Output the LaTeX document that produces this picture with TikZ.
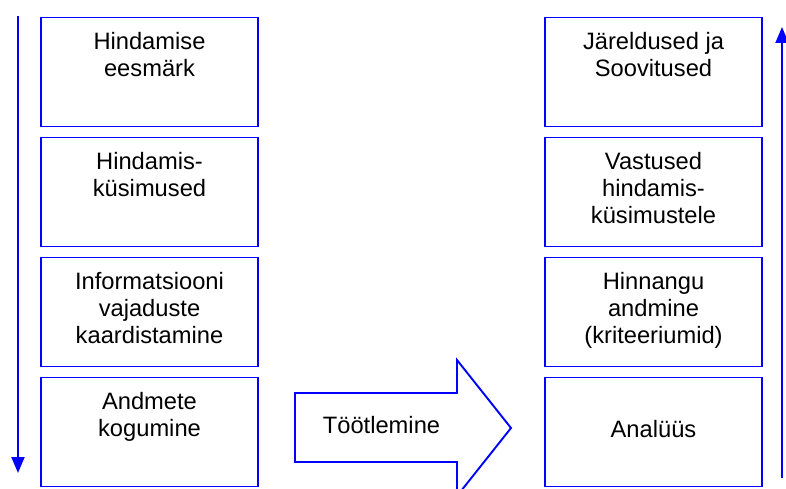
\documentclass[tikz,border=0pt]{standalone}
\usepackage{fontspec}
\setmainfont{Liberation Sans}
\usetikzlibrary{arrows.meta}
\definecolor{lineblue}{RGB}{0,0,255}
\begin{document}
\begin{tikzpicture}[x=1pt,y=-1pt,
  stagebox/.style={draw=lineblue, line width=1.9pt, fill=white,
    minimum width=217pt, minimum height=109pt, inner sep=0pt},
  stagetext/.style={anchor=base, align=center, inner sep=0pt,
    font=\fontsize{23.7}{27}\selectfont},
  flowline/.style={draw=lineblue, line width=1.9pt,
    -{Triangle[width=13pt,length=16pt]}}]
\useasboundingbox (0,0) rectangle (786,489);
\clip (0,0) rectangle (786,489);

% left column: planning stages
\node[stagebox] (L1) at (149.5,72) {};
\node[stagebox] (L2) at (149.5,192) {};
\node[stagebox] (L3) at (149.5,312) {};
\node[stagebox] (L4) at (149.5,432) {};
% the base of a multi-line text is the baseline of its last line
\node[stagetext] (tL1) at ([yshift=-60pt]L1.north) {Hindamise\\eesmärk};
\node[stagetext] (tL2) at ([yshift=-60pt]L2.north) {Hindamis-\\küsimused};
\node[stagetext] (tL3) at ([yshift=-87pt]L3.north) {Informatsiooni\\vajaduste\\kaardistamine};
\node[stagetext] (tL4) at ([yshift=-60pt]L4.north) {Andmete\\kogumine};

% right column: reporting stages
\node[stagebox] (R1) at (653.5,72) {};
\node[stagebox] (R2) at (653.5,192) {};
\node[stagebox] (R3) at (653.5,312) {};
\node[stagebox] (R4) at (653.5,432) {};
\node[stagetext] (tR1) at ([yshift=-60pt]R1.north) {Järeldused ja\\Soovitused};
\node[stagetext] (tR2) at ([yshift=-87pt]R2.north) {Vastused\\hindamis-\\küsimustele};
\node[stagetext] (tR3) at ([yshift=-87pt]R3.north) {Hinnangu\\andmine\\(kriteeriumid)};
\node[stagetext] (tR4) at ([yshift=-5pt]R4.center) {Analüüs};

% direction arrows beside the columns
\coordinate (ls) at (18,16);
\coordinate (le) at (18,473);
\coordinate (rs) at (782,478);
\coordinate (re) at (782,27);
\draw[flowline] (ls) -- (le);
\draw[flowline] (rs) -- (re);

% block arrow between the columns
\draw[lineblue, line width=1.9pt, fill=white, line join=miter]
  (295,393) -- (457,393) -- (457,360) -- (511,428) -- (457,496)
  -- (457,462) -- (295,462) -- cycle;
\node[stagetext] (proc) at (381.5,433) {Töötlemine};
\end{tikzpicture}
\end{document}
